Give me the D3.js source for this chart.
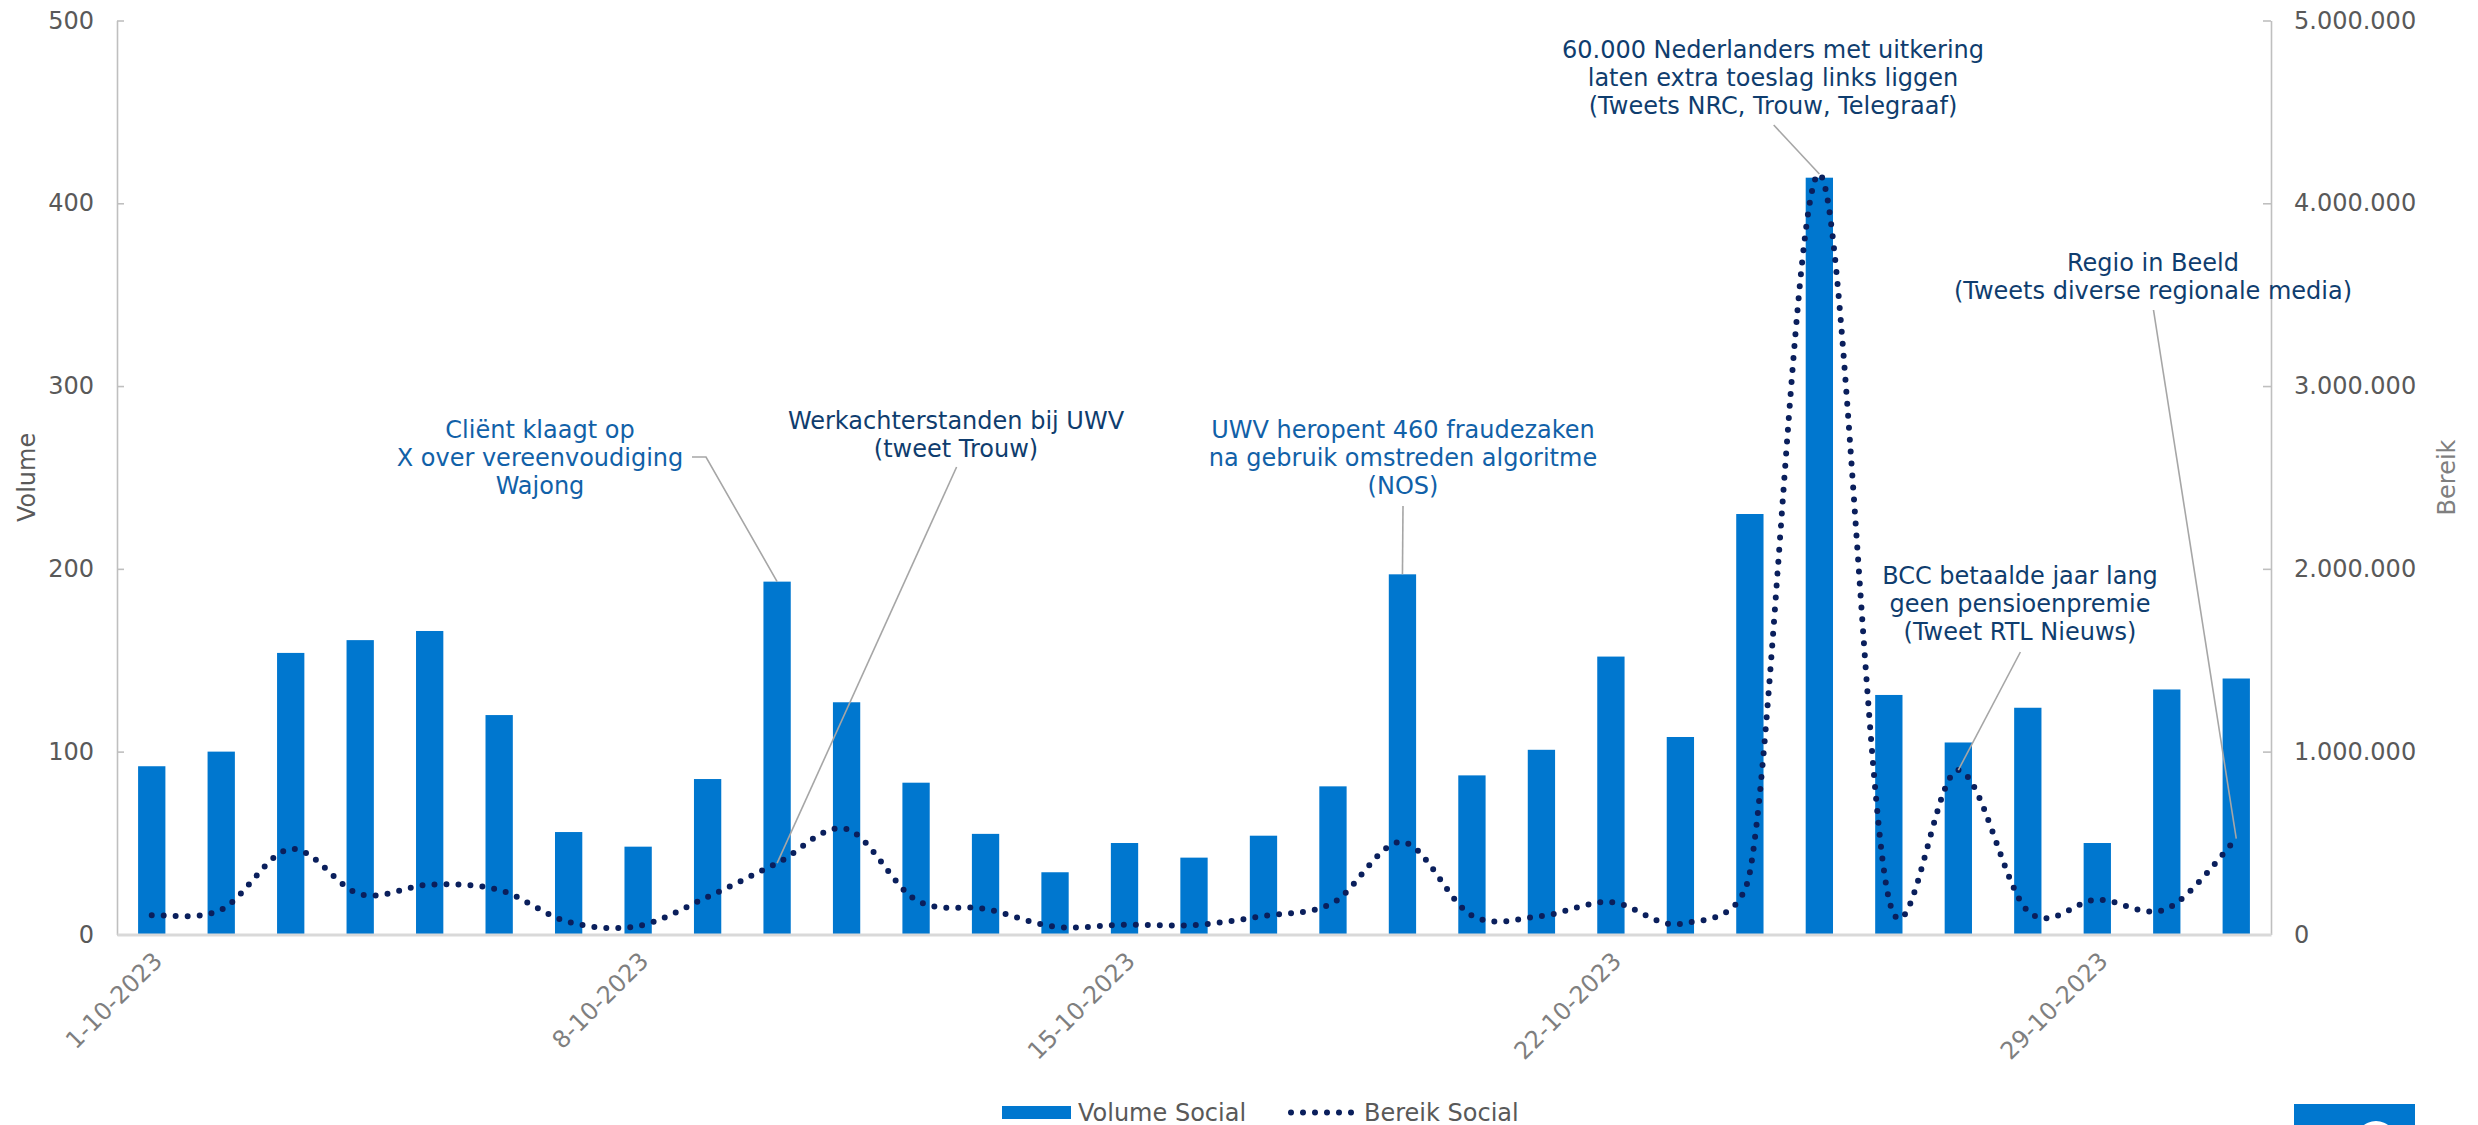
<!DOCTYPE html>
<html>
<head>
<meta charset="utf-8">
<script src="https://cdn.jsdelivr.net/npm/d3@7"></script>
<style>
  html, body { margin: 0; padding: 0; background: #ffffff; }
  svg { display: block; font-family: "DejaVu Sans", Verdana, sans-serif; }
</style>
</head>
<body>
<svg id="chart" width="2478" height="1125"></svg>
<script>
// ---- data -------------------------------------------------------------
const dates = [
  "1-10-2023", "2-10-2023", "3-10-2023", "4-10-2023", "5-10-2023", "6-10-2023", "7-10-2023",
  "8-10-2023", "9-10-2023", "10-10-2023", "11-10-2023", "12-10-2023", "13-10-2023", "14-10-2023",
  "15-10-2023", "16-10-2023", "17-10-2023", "18-10-2023", "19-10-2023", "20-10-2023", "21-10-2023",
  "22-10-2023", "23-10-2023", "24-10-2023", "25-10-2023", "26-10-2023", "27-10-2023", "28-10-2023",
  "29-10-2023", "30-10-2023", "31-10-2023"
];

// number of social posts per day
const volumeSocial = [
  92, 100, 154, 161, 166, 120, 56,
  48, 85, 193, 127, 83, 55, 34,
  50, 42, 54, 81, 197, 87, 101,
  152, 108, 230, 414, 131, 105, 124,
  50, 134, 140
];

// potential reach of those posts per day
const bereikSocial = [
  105000, 135000, 467000, 220000, 272000, 243000, 68000,
  46000, 205000, 390000, 576000, 188000, 139000, 42000,
  53000, 51000, 101000, 173000, 505000, 103000, 101000,
  177000, 58000, 340000, 4160000, 195000, 899000, 128000,
  190000, 140000, 524000
];

const volumeTicks = [0, 100, 200, 300, 400, 500];
const bereikTicks = [0, 1000000, 2000000, 3000000, 4000000, 5000000];
const dateTickLabels = ["1-10-2023", "8-10-2023", "15-10-2023", "22-10-2023", "29-10-2023"];

const seriesNames = ["Volume Social", "Bereik Social"];
const axisTitles = ["Volume", "Bereik"];

// news items that explain the peaks
const annotationDates = ["10-10-2023", "10-10-2023", "19-10-2023", "25-10-2023", "31-10-2023", "27-10-2023"];
const annotationTexts = [
  ["Cliënt klaagt op", "X over vereenvoudiging", "Wajong"],
  ["Werkachterstanden bij UWV", "(tweet Trouw)"],
  ["UWV heropent 460 fraudezaken", "na gebruik omstreden algoritme", "(NOS)"],
  ["60.000 Nederlanders met uitkering", "laten extra toeslag links liggen", "(Tweets NRC, Trouw, Telegraaf)"],
  ["Regio in Beeld", "(Tweets diverse regionale media)"],
  ["BCC betaalde jaar lang", "geen pensioenpremie", "(Tweet RTL Nieuws)"]
];
// which series each note points at
const annotationTargets = ["volume", "bereik", "volume", "bereik", "bereik", "bereik"];

// ---- layout -----------------------------------------------------------
const W = 2478, H = 1125;
const plot = { left: 117, right: 2271, top: 20.5, bottom: 934.4 };
const barColor = "#0077cf";
const lineColor = "#0a1f5c";
const axisGrey = "#bfbfbf";
const labelGrey = "#595959";
const fontSize = 24;

const svg = d3.select("#chart");

const x = d3.scaleBand()
  .domain(dates)
  .range([plot.left, plot.right])
  .paddingInner(0.607)
  .paddingOuter(0.3035);

const yL = d3.scaleLinear().domain([0, 500]).range([plot.bottom, plot.top]);
const yR = d3.scaleLinear().domain([0, 5000000]).range([plot.bottom, plot.top]);

const nl = d3.formatLocale({ decimal: ",", thousands: ".", grouping: [3], currency: ["€", ""] });
const fmt = nl.format(",");

const cx = d => x(d) + x.bandwidth() / 2;

// ---- bars -------------------------------------------------------------
svg.append("g")
  .selectAll("rect")
  .data(dates.map((d, i) => ({ d, v: volumeSocial[i] })))
  .join("rect")
  .attr("x", p => x(p.d))
  .attr("width", x.bandwidth())
  .attr("y", p => yL(p.v))
  .attr("height", p => plot.bottom - yL(p.v))
  .attr("fill", barColor);

// ---- axes -------------------------------------------------------------
const gL = svg.append("g")
  .attr("transform", `translate(${plot.left},0)`)
  .call(d3.axisLeft(yL).tickValues(volumeTicks).tickSizeInner(-7).tickSizeOuter(0).tickPadding(23));

const gR = svg.append("g")
  .attr("transform", `translate(${plot.right},0)`)
  .call(d3.axisRight(yR).tickValues(bereikTicks).tickFormat(fmt).tickSizeInner(-8).tickSizeOuter(0).tickPadding(23));

[gL, gR].forEach(g => {
  g.select(".domain").attr("stroke", axisGrey).attr("stroke-width", 1.6);
  g.selectAll(".tick line").attr("stroke", axisGrey).attr("stroke-width", 1.6);
  g.selectAll(".tick text")
    .attr("fill", labelGrey)
    .attr("font-size", fontSize)
    .attr("font-family", "DejaVu Sans, Verdana, sans-serif");
});

const gX = svg.append("g")
  .attr("transform", `translate(0,${plot.bottom})`)
  .call(d3.axisBottom(x).tickValues(dateTickLabels).tickSize(0).tickPadding(0));
gX.select(".domain").attr("stroke", "#d9d9d9").attr("stroke-width", 3);
gX.selectAll(".tick text")
  .attr("y", 0)
  .attr("dy", "0.35em")
  .attr("text-anchor", "end")
  .attr("transform", "translate(6,22) rotate(-45)")
  .attr("fill", "#7f7f7f")
  .attr("font-size", fontSize)
  .attr("font-family", "DejaVu Sans, Verdana, sans-serif");

// axis titles
svg.append("text")
  .attr("transform", `translate(35,${(plot.top + plot.bottom) / 2}) rotate(-90)`)
  .attr("text-anchor", "middle")
  .attr("fill", labelGrey)
  .attr("font-size", fontSize)
  .text(axisTitles[0]);

svg.append("text")
  .attr("transform", `translate(2455,${(plot.top + plot.bottom) / 2}) rotate(-90)`)
  .attr("text-anchor", "middle")
  .attr("fill", "#7f7f7f")
  .attr("font-size", fontSize)
  .text(axisTitles[1]);

// ---- smoothed reach line ---------------------------------------------
// Bezier spline through the points: tangent parallel to the neighbours'
// chord, control distance a sixth of that chord, but never more than a
// fraction of the segment itself so short legs next to a spike stay tame.
function smoothPath(pts) {
  const n = pts.length;
  const dist = (a, b) => Math.hypot(b[0] - a[0], b[1] - a[1]);
  const ctrl = (a, b, c, seg, sign) => {
    const dx = c[0] - a[0], dy = c[1] - a[1];
    const len = Math.hypot(dx, dy);
    if (len === 0) return b;
    const L = Math.min(len / 6, 0.6 * seg);
    return [b[0] + sign * dx / len * L, b[1] + sign * dy / len * L];
  };
  let d = `M${pts[0][0]},${pts[0][1]}`;
  for (let i = 0; i < n - 1; i++) {
    const p0 = pts[Math.max(i - 1, 0)], p1 = pts[i], p2 = pts[i + 1], p3 = pts[Math.min(i + 2, n - 1)];
    const seg = dist(p1, p2);
    const c1 = ctrl(p0, p1, p2, seg, 1);
    const c2 = ctrl(p1, p2, p3, seg, -1);
    d += `C${c1[0]},${c1[1]},${c2[0]},${c2[1]},${p2[0]},${p2[1]}`;
  }
  return d;
}

const linePts = bereikSocial.map((v, i) => [cx(dates[i]), yR(v)]);

svg.append("path")
  .attr("d", smoothPath(linePts))
  .attr("fill", "none")
  .attr("stroke", lineColor)
  .attr("stroke-width", 6)
  .attr("stroke-linecap", "round")
  .attr("stroke-dasharray", "0 12");

// ---- annotations -------------------------------------------------------
// text block centre, first baseline, leader start (with optional elbow)
const noteLayout = [
  { tx: 540,  ty: 438, colour: "#1161a8", leader: [[692, 457], [706, 457]] },
  { tx: 956,  ty: 429, colour: "#0f3d6e", leader: [[956.6, 467]] },
  { tx: 1403, ty: 438, colour: "#1161a8", leader: [[1403, 506]] },
  { tx: 1773, ty: 58,  colour: "#0f3d6e", leader: [[1773.7, 125]] },
  { tx: 2153, ty: 271, colour: "#0f3d6e", leader: [[2153.5, 310]] },
  { tx: 2020, ty: 584, colour: "#0f3d6e", leader: [[2020.4, 652]] }
];
const lineGap = 28;

const gNotes = svg.append("g");
annotationTexts.forEach((lines, k) => {
  const lay = noteLayout[k];
  const d = annotationDates[k];
  const i = dates.indexOf(d);
  const endY = annotationTargets[k] === "volume" ? yL(volumeSocial[i]) : yR(bereikSocial[i]);
  const pts = lay.leader.concat([[cx(d), endY]]);
  gNotes.append("polyline")
    .attr("points", pts.map(p => p.join(",")).join(" "))
    .attr("fill", "none")
    .attr("stroke", "#a6a6a6")
    .attr("stroke-width", 1.6);
  const t = gNotes.append("text")
    .attr("text-anchor", "middle")
    .attr("fill", lay.colour)
    .attr("font-size", fontSize);
  lines.forEach((s, j) => {
    t.append("tspan").attr("x", lay.tx).attr("y", lay.ty + j * lineGap).text(s);
  });
});

// ---- legend ----------------------------------------------------------
const lg = svg.append("g");
lg.append("rect").attr("x", 1002).attr("y", 1106).attr("width", 69).attr("height", 13).attr("fill", barColor);
lg.append("text").attr("x", 1078).attr("y", 1120.5).attr("fill", labelGrey).attr("font-size", fontSize).text(seriesNames[0]);
lg.append("line")
  .attr("x1", 1291).attr("x2", 1355).attr("y1", 1112.5).attr("y2", 1112.5)
  .attr("stroke", lineColor).attr("stroke-width", 6)
  .attr("stroke-linecap", "round").attr("stroke-dasharray", "0 12");
lg.append("text").attr("x", 1364).attr("y", 1120.5).attr("fill", labelGrey).attr("font-size", fontSize).text(seriesNames[1]);

// ---- logo block, bottom right ---------------------------------------
svg.append("rect").attr("x", 2294).attr("y", 1104).attr("width", 121).attr("height", 21).attr("fill", barColor);
svg.append("ellipse").attr("cx", 2376).attr("cy", 1143).attr("rx", 21).attr("ry", 22).attr("fill", "#ffffff");
</script>
</body>
</html>
